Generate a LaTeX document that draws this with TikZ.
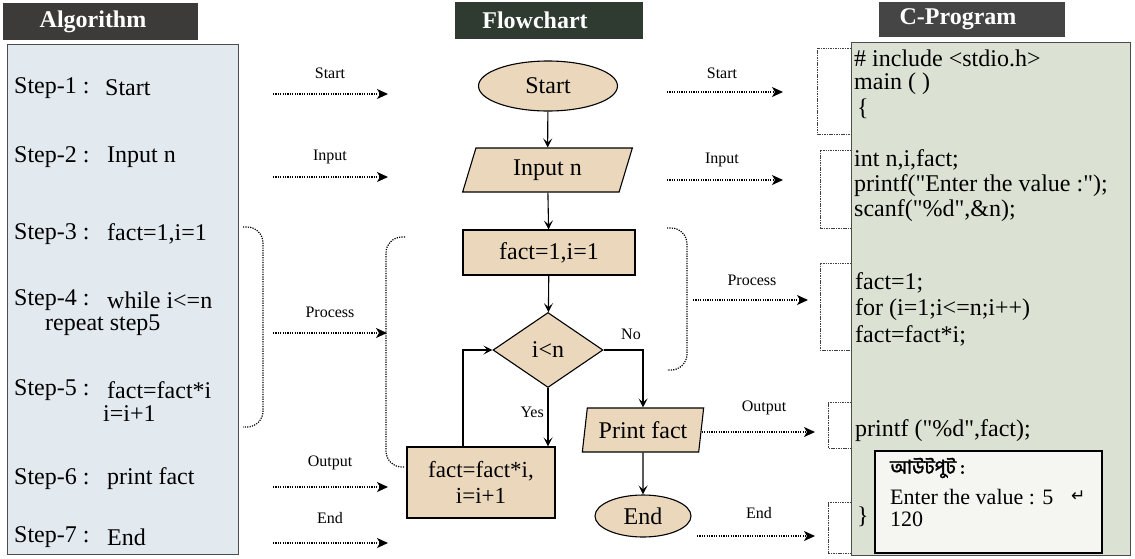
\documentclass[tikz,border=0pt]{standalone}
\usepackage{fontspec}
\setmainfont{Liberation Serif}[Ligatures=TeXOff]
\newfontfamily\bengfont[Script=Bengali,FakeBold=2]{Hind Siliguri}
\newfontfamily\symfont{DejaVu Sans}
\usetikzlibrary{shapes.geometric,arrows.meta,calc}

\definecolor{algbg}{HTML}{E2E9EF}
\definecolor{progbg}{HTML}{DCE2D3}
\definecolor{shapefill}{HTML}{EBD8BC}
\definecolor{headA}{HTML}{3D3B39}
\definecolor{headB}{HTML}{2F3A30}
\definecolor{headC}{HTML}{454545}
\definecolor{outbg}{HTML}{F5F5F2}

\tikzset{
  header/.style={text=white, font=\bfseries\fontsize{24}{27}\selectfont, inner sep=0pt},
  panel/.style={draw=black!70, line width=0.8pt},
  steptext/.style={anchor=west, font=\fontsize{24}{28}\selectfont, inner sep=0pt},
  codetext/.style={anchor=west, font=\fontsize{24}{28}\selectfont, inner sep=0pt},
  outtext/.style={anchor=west, font=\fontsize{22}{25}\selectfont, inner sep=0pt},
  flowshape/.style={draw, fill=shapefill, line width=1.1pt, font=\fontsize{24}{28}\selectfont, inner sep=0pt, align=center},
  tag/.style={font=\fontsize{16}{18}\selectfont, inner sep=0pt},
  flow/.style={line width=1.1pt, -{Stealth[length=9pt,width=9pt,inset=4pt]}},
  dotarrow/.style={line width=1.4pt, dash pattern=on 1.2pt off 1.2pt, -{Stealth[length=11pt,width=10pt,inset=3pt]}},
  dotbrace/.style={line width=1.2pt, dash pattern=on 1.2pt off 1.2pt, rounded corners=16pt},
  dotbracket/.style={line width=0.9pt, draw=black!75, dash pattern=on 1.5pt off 0.9pt},
}

\begin{document}
\begin{tikzpicture}[x=1pt,y=-1pt]
\useasboundingbox[fill=white] (0,0) rectangle (1135,558);

% ---------- headers ----------
\fill[headA] (3,3) rectangle (198,40);
\node[header] (hAlg) at (93,21.5) {Algorithm};
\fill[headB] (455,2) rectangle (643,39);
\node[header] (hFlow) at (535,20.5) {Flowchart};
\fill[headC] (879,2) rectangle (1065,37);
\node[header] (hProg) at (958,19.5) {C-Program};

% ---------- algorithm panel ----------
\draw[panel, fill=algbg] (7,44) rectangle (238,554);
\node[steptext] (s1) at (14,88) {Step-1 :};
\node[steptext] (s1t) at (105,88) {Start};
\node[steptext] (s2) at (14,157) {Step-2 :};
\node[steptext] (s2t) at (107,157) {Input n};
\node[steptext] (s3) at (14,234) {Step-3 :};
\node[steptext] (s3t) at (107,234) {fact=1,i=1};
\node[steptext] (s4) at (14,300) {Step-4 :};
\node[steptext] (s4t) at (107,300) {while i<=n};
\node[steptext] (s4u) at (45,325) {repeat step5};
\node[steptext] (s5) at (14,390) {Step-5 :};
\node[steptext] (s5t) at (107,390) {fact=fact*i};
\node[steptext] (s5u) at (103,414) {i=i+1};
\node[steptext] (s6) at (14,479) {Step-6 :};
\node[steptext] (s6t) at (107,479) {print fact};
\node[steptext] (s7) at (14,537) {Step-7 :};
\node[steptext] (s7t) at (107,537) {End};

% ---------- program panel ----------
\draw[panel, fill=progbg] (851,42) rectangle (1130,555);
\node[codetext] (c1) at (854,58) {\# include <stdio.h>};
\node[codetext] (c2) at (854,84) {main ( )};
\node[codetext] (c3) at (857,109) {\{};
\node[codetext] (c4) at (854,160) {int n,i,fact;};
\node[codetext] (c5) at (854,186) {printf("Enter the value :");};
\node[codetext] (c6) at (854,211) {scanf("\%d",\&n);};
\node[codetext] (c7) at (855,283) {fact=1;};
\node[codetext] (c8) at (855,310) {for (i=1;i<=n;i++)};
\node[codetext] (c9) at (855,336) {fact=fact*i;};
\node[codetext] (c10) at (855,431) {printf ("\%d",fact);};
\node[codetext] (c11) at (857,517) {\}};

% output window
\draw[line width=1.1pt, fill=outbg] (875,451) rectangle (1102,553);
\node[outtext, font=\bengfont\fontsize{19}{22}\selectfont] (o1) at (890,468) {আউটপুট :};
\node[outtext] (o2) at (890,497) {Enter the value : 5};
\node[outtext, font=\symfont\fontsize{17}{20}\selectfont] (o3) at (1071,496) {↵};
\node[outtext] (o4) at (890,519) {120};

% ---------- flowchart ----------
\node[flowshape, ellipse, minimum width=139pt, minimum height=50pt] (start) at (548,86) {Start};
\node[flowshape, trapezium, trapezium left angle=73, trapezium right angle=107,
      trapezium stretches=true, minimum width=171pt, minimum height=44pt] (input) at (547.5,170) {Input n};
\node[flowshape, rectangle, minimum width=172pt, minimum height=45pt] (init) at (549,252.5) {fact=1,i=1};
\node[flowshape, diamond, aspect=1.47, minimum width=110pt, minimum height=75pt] (cond) at (548,350) {i<n};
\node[flowshape, rectangle, minimum width=148pt, minimum height=71pt, font=\fontsize{23}{26}\selectfont] (body) at (481,482.5) {fact=fact*i,\\ i=i+1};
\node[flowshape, trapezium, trapezium left angle=77, trapezium right angle=103,
      trapezium stretches=true, minimum width=122pt, minimum height=44pt] (print) at (643,430) {Print fact};
\node[flowshape, ellipse, minimum width=96pt, minimum height=42pt] (stop) at (643,516) {End};

\draw[flow] (start) -- (input);
\draw[flow] (input) -- (init);
\draw[flow] (init) -- (cond);
\draw[flow] (cond.south) -- (cond.south |- body.north);
\draw[flow] ([xshift=-18pt]body.north) |- (cond.west);
\draw[flow] (cond.east) -| (print.north);
\draw[flow] (print) -- (stop);
\node[tag, anchor=east] (yes) at (544,412) {Yes};
\node[tag] (no) at (631,334) {No};

% ---------- dotted braces ----------
\coordinate (bA1) at (243,227); \coordinate (bA2) at (243,427);
\draw[dotbrace] (bA1) -- (263,227) -- (263,427) -- (bA2);
\coordinate (bB1) at (405,237); \coordinate (bB2) at (405,467);
\draw[dotbrace] (bB1) -- (386,237) -- (386,467) -- (bB2);
\coordinate (bC1) at (667,228); \coordinate (bC2) at (667,370);
\draw[dotbrace] (bC1) -- (687,228) -- (687,370) -- (bC2);

% ---------- brackets on the program side ----------
\draw[dotbracket] (851,48) -- (817,48) -- (817,134) -- (851,134);
\draw[dotbracket] (851,150) -- (820,150) -- (820,228) -- (851,228);
\draw[dotbracket] (851,263) -- (820,263) -- (820,350) -- (851,350);
\draw[dotbracket] (851,402) -- (828,402) -- (828,448) -- (851,448);
\draw[dotbracket] (851,502) -- (828,502) -- (828,553) -- (851,553);

% ---------- dotted arrows: algorithm to flowchart ----------
\coordinate (la1) at (273,94);  \coordinate (lb1) at (388,94);
\coordinate (la2) at (273,177); \coordinate (lb2) at (388,177);
\coordinate (la3) at (273,333); \coordinate (lb3) at (387,333);
\coordinate (la4) at (273,487); \coordinate (lb4) at (388,487);
\coordinate (la5) at (273,543); \coordinate (lb5) at (388,543);
\draw[dotarrow] (la1) -- (lb1);
\draw[dotarrow] (la2) -- (lb2);
\draw[dotarrow] (la3) -- (lb3);
\draw[dotarrow] (la4) -- (lb4);
\draw[dotarrow] (la5) -- (lb5);
\node[tag] (tl1) at (330,73) {Start};
\node[tag] (tl2) at (330,157) {Input};
\node[tag] (tl3) at (330,312) {Process};
\node[tag] (tl4) at (330,463) {Output};
\node[tag] (tl5) at (330,518) {End};

% ---------- dotted arrows: flowchart to program ----------
\coordinate (ra1) at (667,92);  \coordinate (rb1) at (783,92);
\coordinate (ra2) at (667,180); \coordinate (rb2) at (783,180);
\coordinate (ra3) at (693,300); \coordinate (rb3) at (808,300);
\coordinate (rb4) at (815,432);
\coordinate (ra5) at (697,536); \coordinate (rb5) at (815,536);
\draw[dotarrow] (ra1) -- (rb1);
\draw[dotarrow] (ra2) -- (rb2);
\draw[dotarrow] (ra3) -- (rb3);
\draw[dotarrow] (print.east |- rb4) -- (rb4);
\draw[dotarrow] (ra5) -- (rb5);
\node[tag] (tr1) at (722,73) {Start};
\node[tag] (tr2) at (722,160) {Input};
\node[tag] (tr3) at (752,280) {Process};
\node[tag] (tr4) at (764,408) {Output};
\node[tag] (tr5) at (759,513) {End};
\end{tikzpicture}
\end{document}
